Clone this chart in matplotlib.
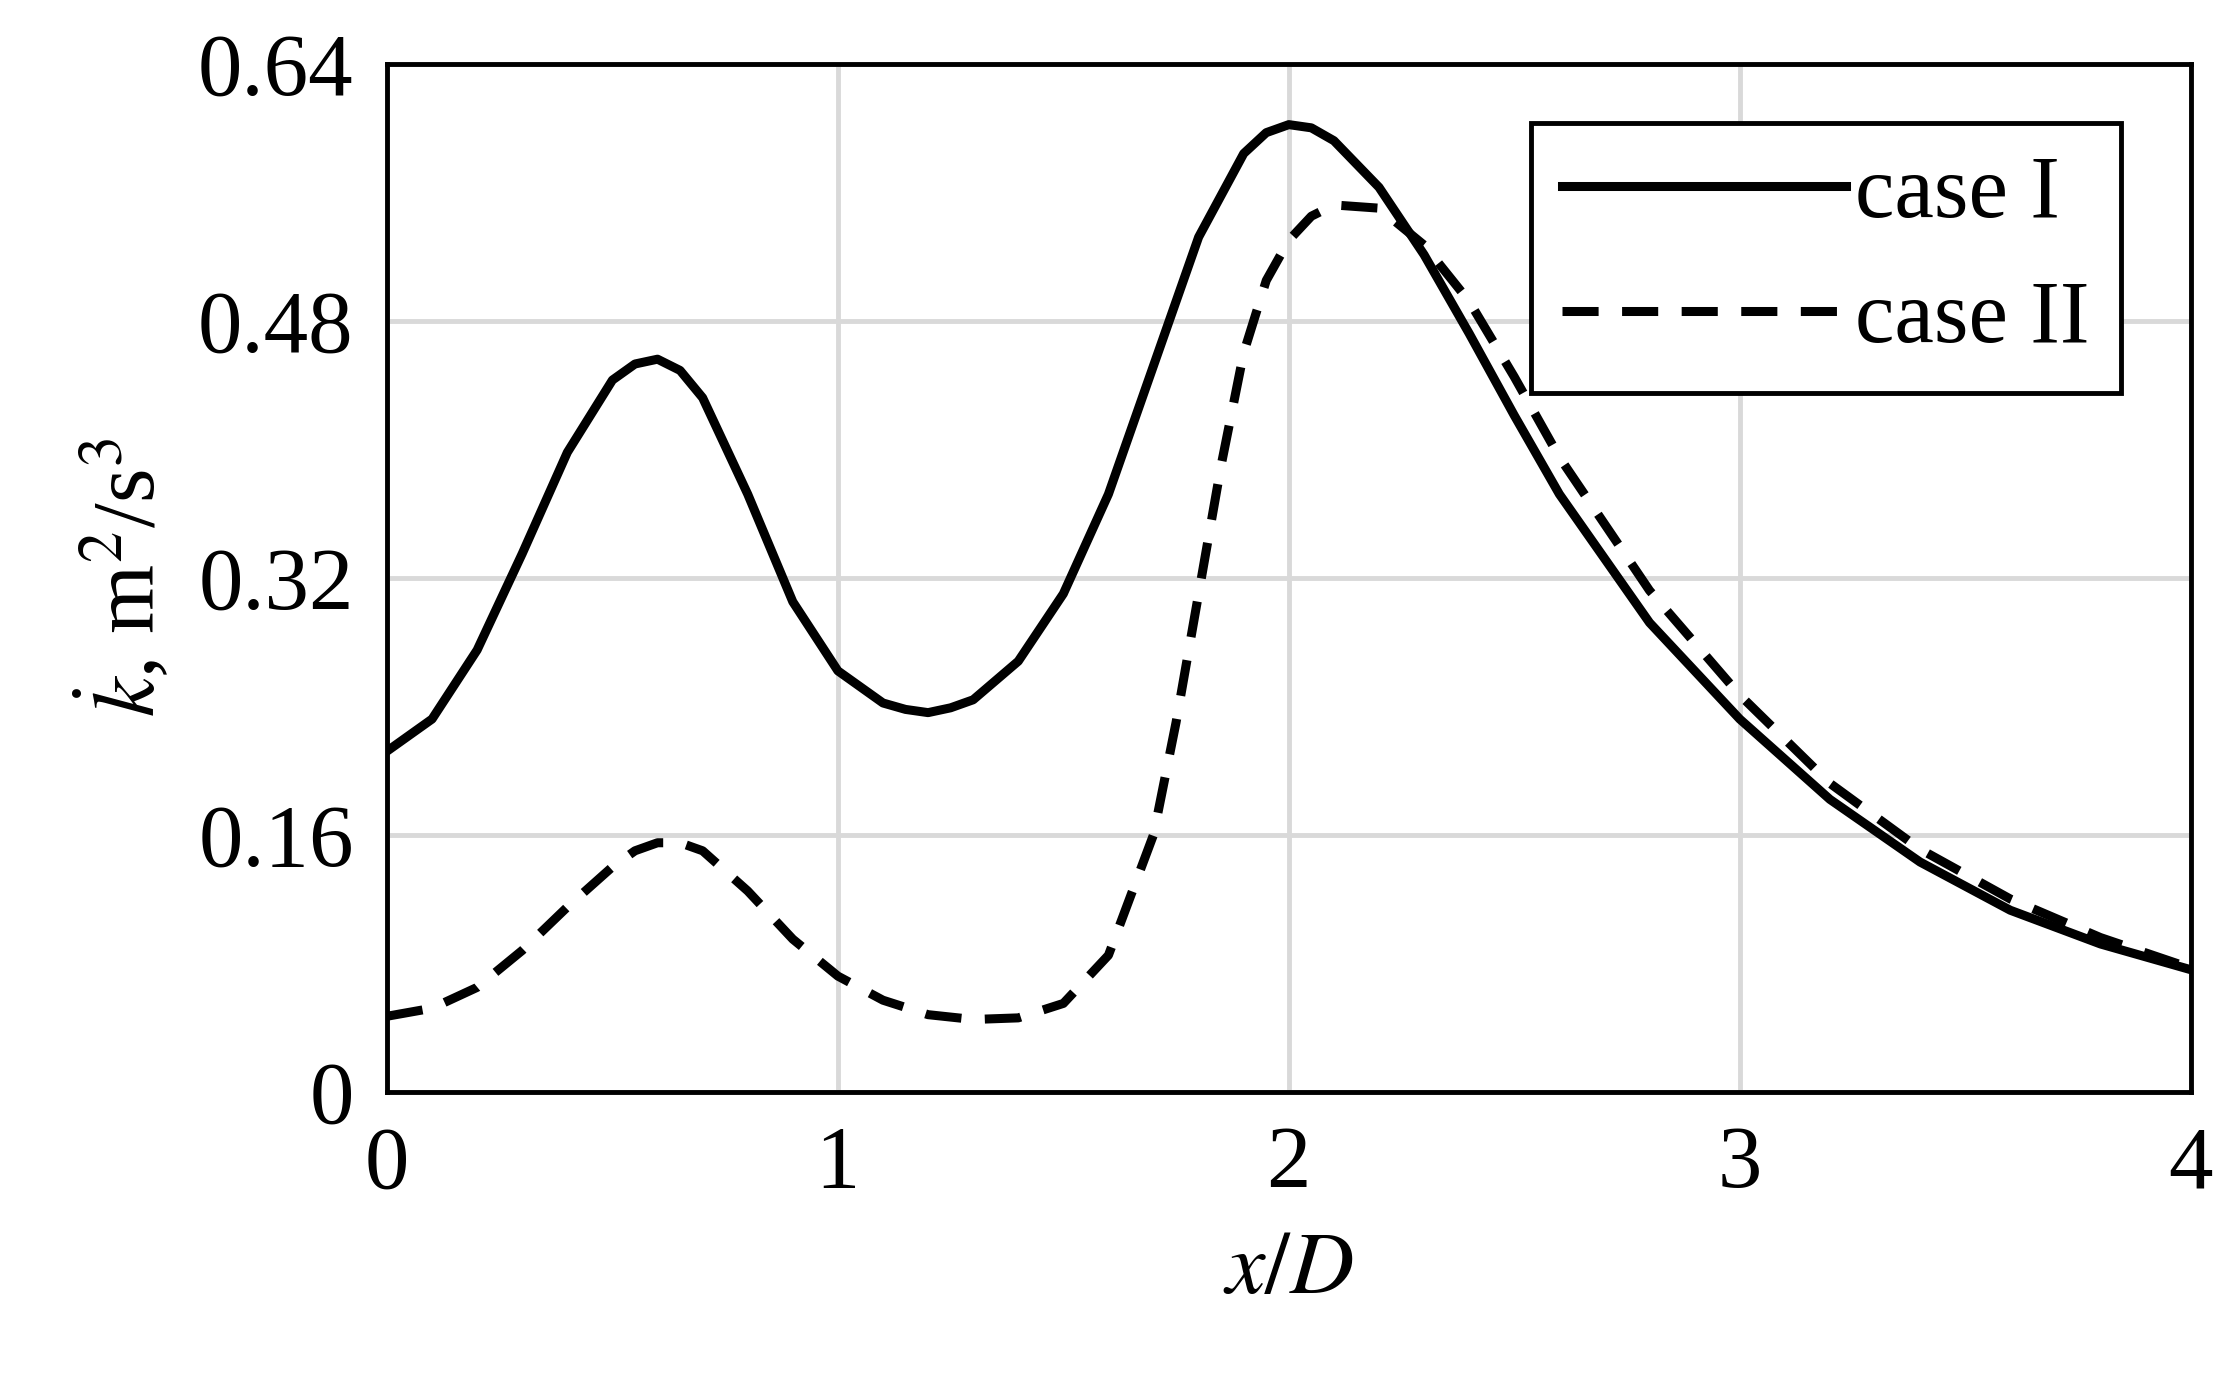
import matplotlib
matplotlib.use("Agg")
import matplotlib.pyplot as plt

plt.rcParams['font.family'] = ['Liberation Serif', 'DejaVu Serif']
plt.rcParams['mathtext.fontset'] = 'stix'

x1 = [0,0.1,0.2,0.3,0.4,0.5,0.55,0.6,0.65,0.7,0.8,0.9,1.0,1.1,1.15,1.2,1.25,1.3,1.4,1.5,1.6,1.7,1.8,1.9,1.95,2.0,2.05,2.1,2.2,2.3,2.4,2.5,2.6,2.8,3.0,3.2,3.4,3.6,3.8,4.0]
case1 = [0.212,0.232,0.275,0.335,0.398,0.443,0.453,0.456,0.449,0.432,0.372,0.305,0.262,0.242,0.238,0.236,0.239,0.244,0.268,0.31,0.372,0.452,0.532,0.584,0.597,0.602,0.6,0.592,0.563,0.521,0.472,0.421,0.372,0.292,0.232,0.182,0.143,0.113,0.092,0.076]
x2 = [0,0.1,0.2,0.3,0.4,0.5,0.55,0.6,0.65,0.7,0.8,0.9,1.0,1.1,1.2,1.3,1.4,1.5,1.6,1.7,1.75,1.8,1.85,1.9,1.95,2.0,2.05,2.1,2.2,2.3,2.4,2.5,2.6,2.8,3.0,3.2,3.4,3.6,3.8,4.0]
case2 = [0.047,0.052,0.065,0.088,0.115,0.14,0.15,0.155,0.155,0.15,0.125,0.095,0.072,0.057,0.048,0.045,0.046,0.055,0.085,0.16,0.23,0.31,0.39,0.46,0.505,0.53,0.545,0.552,0.55,0.527,0.492,0.445,0.395,0.312,0.247,0.192,0.151,0.12,0.096,0.077]

fig = plt.figure(figsize=(22.24, 13.82), dpi=100)
ax = fig.add_axes([0.174, 0.21, 0.811, 0.744])
ax.plot(x1, case1, color='black', lw=6.5, label='case I')
ax.plot(x2, case2, color='black', lw=6.5, ls=(0, (4, 2.6)), label='case II')
ax.set_xlim(0, 4)
ax.set_ylim(0, 0.64)
ax.set_xticks([0, 1, 2, 3, 4])
ax.set_yticks([0, 0.16, 0.32, 0.48, 0.64])
ax.set_yticklabels(['0', '0.16', '0.32', '0.48', '0.64'])
ax.grid(True, color='#d9d9d9', lw=3.5)
ax.set_axisbelow(True)
for s in ax.spines.values():
    s.set_linewidth(3.5)
ax.tick_params(labelsize=64, length=0, pad=24)
ax.set_xlabel('$x/D$', fontsize=64, labelpad=18)
ax.set_ylabel('$\\dot{k}$, m$^2$/s$^3$', fontsize=64, labelpad=18)
leg = ax.legend(loc='upper right', fontsize=64, frameon=True, fancybox=False,
                edgecolor='black', handlelength=3.2, borderpad=0.35, labelspacing=0.5,
                handletextpad=0.1, bbox_to_anchor=(0.986, 0.985), framealpha=1)
leg.get_frame().set_linewidth(3.5)
fig.savefig('out.png', dpi=100, facecolor='white')
